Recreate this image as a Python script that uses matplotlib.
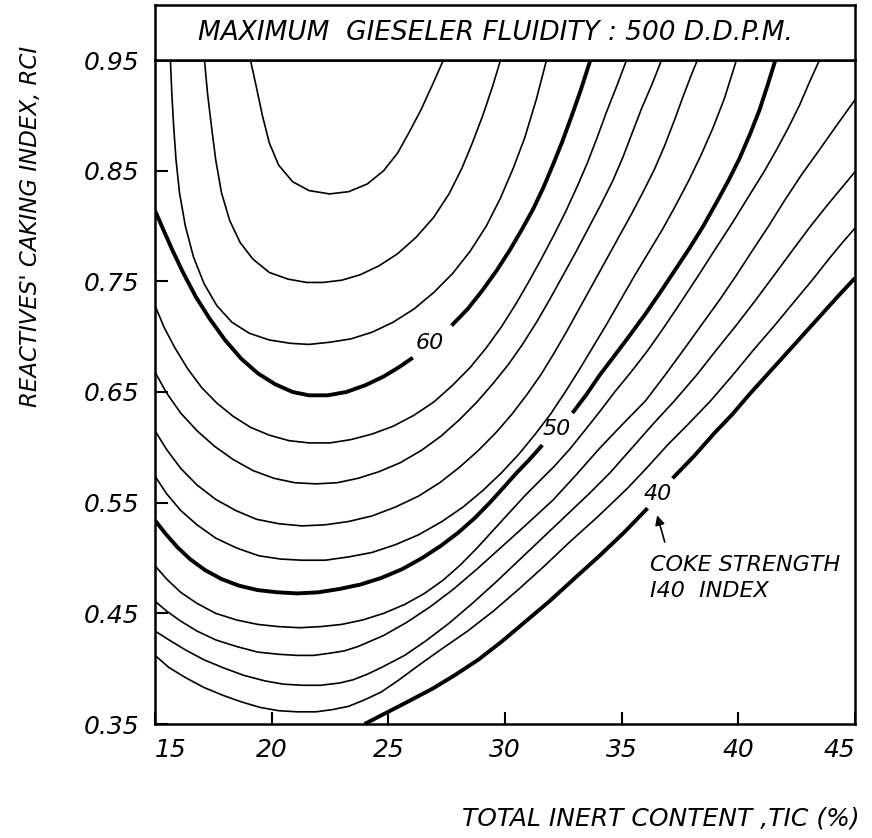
import matplotlib
matplotlib.use("Agg")
import matplotlib.pyplot as plt

# contour lines of coke strength (I40 index)
# points are (TIC %, RCI); bold levels are split in two where the number sits
lvl66 = [(19.09, 0.95), (19.35, 0.925), (19.6, 0.90), (19.9, 0.875), (20.3, 0.855),
         (20.9, 0.840), (21.6, 0.832), (22.48, 0.829), (23.3, 0.831), (24.1, 0.838),
         (24.8, 0.85), (25.4, 0.866), (25.9, 0.885), (26.4, 0.905), (26.9, 0.928),
         (27.36, 0.95)]
lvl64 = [(17.12, 0.95), (17.25, 0.92), (17.42, 0.89), (17.6, 0.86), (17.85, 0.83),
         (18.2, 0.805), (18.65, 0.785), (19.2, 0.77), (19.9, 0.758), (20.7, 0.752),
         (21.5, 0.749), (22.2, 0.749), (23.0, 0.751), (23.8, 0.756), (24.6, 0.764),
         (25.4, 0.775), (26.2, 0.79), (26.95, 0.808), (27.6, 0.829), (28.15, 0.852),
         (28.6, 0.875), (29.05, 0.90), (29.45, 0.925), (29.81, 0.95)]
lvl62 = [(15.66, 0.95), (15.72, 0.92), (15.8, 0.89), (15.9, 0.86), (16.05, 0.83),
         (16.3, 0.80), (16.65, 0.772), (17.1, 0.748), (17.65, 0.728), (18.3, 0.713),
         (19.05, 0.703), (19.9, 0.697), (20.8, 0.694), (21.6, 0.693), (22.5, 0.695),
         (23.4, 0.698), (24.3, 0.704), (25.2, 0.713), (26.1, 0.725), (26.95, 0.740),
         (27.75, 0.757), (28.5, 0.777), (29.2, 0.80), (29.8, 0.825), (30.35, 0.852),
         (30.85, 0.88), (31.35, 0.915), (31.78, 0.95)]
lvl60_a = [(15.0, 0.814), (15.35, 0.797), (15.75, 0.778), (16.2, 0.758), (16.75, 0.736),
           (17.35, 0.716), (18.0, 0.697), (18.7, 0.68), (19.4, 0.667), (20.15, 0.657),
           (20.9, 0.65), (21.6, 0.647), (22.4, 0.647), (23.2, 0.65), (24.0, 0.656),
           (24.8, 0.664), (25.5, 0.673), (26.05, 0.681)]
lvl60_b = [(27.71, 0.710), (28.4, 0.725), (29.04, 0.742), (29.65, 0.760), (30.2, 0.778),
           (30.7, 0.796), (31.2, 0.815), (31.65, 0.835), (32.05, 0.855), (32.45, 0.876),
           (32.85, 0.899), (33.25, 0.923), (33.66, 0.95)]
lvl58 = [(15.0, 0.728), (15.4, 0.708), (15.85, 0.69), (16.4, 0.671), (17.0, 0.654),
         (17.65, 0.64), (18.35, 0.628), (19.1, 0.618), (19.9, 0.611), (20.75, 0.606),
         (21.6, 0.604), (22.5, 0.604), (23.4, 0.607), (24.3, 0.612), (25.2, 0.619),
         (26.1, 0.629), (26.95, 0.641), (27.75, 0.656), (28.5, 0.672), (29.2, 0.69),
         (29.85, 0.709), (30.45, 0.729), (31.0, 0.749), (31.55, 0.77), (32.1, 0.792),
         (32.6, 0.813), (33.1, 0.836), (33.55, 0.858), (33.95, 0.88), (34.35, 0.903),
         (34.8, 0.927), (35.21, 0.95)]
lvl56 = [(15.0, 0.668), (15.5, 0.649), (16.1, 0.631), (16.8, 0.615), (17.55, 0.601),
         (18.35, 0.589), (19.2, 0.579), (20.1, 0.572), (21.0, 0.568), (21.9, 0.567),
         (22.8, 0.568), (23.7, 0.572), (24.6, 0.578), (25.5, 0.586), (26.4, 0.597),
         (27.25, 0.61), (28.05, 0.625), (28.8, 0.641), (29.5, 0.658), (30.15, 0.675),
         (30.75, 0.693), (31.35, 0.713), (31.9, 0.733), (32.45, 0.754), (33.0, 0.775),
         (33.55, 0.797), (34.1, 0.819), (34.6, 0.84), (35.05, 0.862), (35.45, 0.884),
         (35.85, 0.906), (36.3, 0.928), (36.71, 0.95)]
lvl54 = [(15.0, 0.615), (15.5, 0.598), (16.1, 0.581), (16.8, 0.566), (17.6, 0.553),
         (18.45, 0.543), (19.35, 0.535), (20.3, 0.531), (21.3, 0.529), (22.3, 0.530),
         (23.3, 0.533), (24.3, 0.538), (25.3, 0.546), (26.3, 0.556), (27.2, 0.568),
         (28.05, 0.582), (28.85, 0.597), (29.6, 0.613), (30.3, 0.63), (30.95, 0.648),
         (31.55, 0.666), (32.1, 0.685), (32.65, 0.705), (33.2, 0.726), (33.75, 0.747),
         (34.3, 0.768), (34.85, 0.789), (35.4, 0.81), (35.9, 0.83), (36.4, 0.851),
         (36.85, 0.873), (37.25, 0.895), (37.65, 0.918), (38.05, 0.94), (38.25, 0.95)]
lvl52 = [(15.0, 0.574), (15.5, 0.558), (16.1, 0.543), (16.8, 0.53), (17.6, 0.518),
         (18.5, 0.509), (19.45, 0.502), (20.4, 0.499), (21.3, 0.498), (22.3, 0.498),
         (23.3, 0.501), (24.3, 0.505), (25.3, 0.512), (26.3, 0.521), (27.3, 0.533),
         (28.2, 0.546), (29.05, 0.561), (29.85, 0.577), (30.6, 0.594), (31.3, 0.612),
         (31.95, 0.63), (32.55, 0.649), (33.15, 0.669), (33.75, 0.69), (34.35, 0.711),
         (34.95, 0.733), (35.55, 0.755), (36.15, 0.776), (36.75, 0.797), (37.3, 0.818),
         (37.85, 0.840), (38.4, 0.864), (38.9, 0.888), (39.4, 0.915), (39.92, 0.95)]
lvl50_a = [(15.0, 0.534), (15.45, 0.522), (15.95, 0.51), (16.5, 0.499), (17.15, 0.489),
           (17.85, 0.481), (18.6, 0.475), (19.4, 0.471), (20.25, 0.469), (21.1, 0.468),
           (22.0, 0.469), (22.9, 0.472), (23.8, 0.476), (24.7, 0.482), (25.6, 0.49),
           (26.45, 0.5), (27.25, 0.511), (28.0, 0.523), (28.7, 0.536), (29.35, 0.55),
           (29.95, 0.564), (30.5, 0.577), (31.05, 0.589), (31.6, 0.602)]
lvl50_b = [(32.89, 0.631), (33.5, 0.648), (34.05, 0.665), (34.7, 0.683), (35.34, 0.701),
           (36.0, 0.72), (36.62, 0.739), (37.25, 0.759), (37.91, 0.780), (38.5, 0.80),
           (39.11, 0.823), (39.6, 0.842), (40.05, 0.861), (40.5, 0.883), (40.91, 0.905),
           (41.25, 0.927), (41.59, 0.95)]
lvl48 = [(15.0, 0.493), (15.5, 0.481), (16.1, 0.469), (16.8, 0.459), (17.6, 0.45),
         (18.5, 0.444), (19.4, 0.44), (20.3, 0.438), (21.2, 0.437), (22.1, 0.438),
         (23.0, 0.44), (23.9, 0.444), (24.8, 0.45), (25.7, 0.458), (26.55, 0.468),
         (27.35, 0.48), (28.1, 0.494), (28.8, 0.509), (29.45, 0.524), (30.1, 0.539),
         (30.84, 0.556), (31.5, 0.57), (32.12, 0.583), (32.8, 0.599), (33.41, 0.615),
         (34.05, 0.632), (34.7, 0.65), (35.4, 0.668), (36.1, 0.687), (36.8, 0.708),
         (37.5, 0.73), (38.25, 0.754), (38.98, 0.778), (39.75, 0.803), (40.48, 0.828),
         (41.1, 0.849), (41.64, 0.869), (42.15, 0.889), (42.62, 0.909), (43.05, 0.93),
         (43.48, 0.95)]
lvl46 = [(15.0, 0.461), (15.5, 0.452), (16.1, 0.443), (16.8, 0.434), (17.6, 0.426),
         (18.5, 0.42), (19.4, 0.415), (20.3, 0.413), (21.1, 0.412), (21.8, 0.412),
         (22.5, 0.414), (23.1, 0.416), (23.7, 0.420), (24.8, 0.43), (25.8, 0.442),
         (26.8, 0.456), (27.8, 0.472), (28.8, 0.49), (29.8, 0.509), (30.8, 0.528),
         (32.04, 0.552), (33.0, 0.574), (34.05, 0.599), (35.0, 0.62), (36.02, 0.642),
         (36.85, 0.665), (37.65, 0.688), (38.4, 0.71), (39.19, 0.733), (39.9, 0.755),
         (40.61, 0.778), (41.3, 0.80), (41.98, 0.823), (42.7, 0.846), (43.48, 0.869),
         (44.25, 0.892), (45.0, 0.914)]
lvl44 = [(15.0, 0.434), (15.6, 0.426), (16.3, 0.417), (17.1, 0.408), (17.9, 0.401),
         (18.8, 0.394), (19.7, 0.389), (20.5, 0.386), (21.3, 0.385), (22.1, 0.385),
         (22.9, 0.387), (23.5, 0.390), (24.1, 0.395), (24.7, 0.401), (25.7, 0.412),
         (26.6, 0.425), (27.6, 0.441), (28.6, 0.459), (29.6, 0.478), (30.6, 0.498),
         (31.6, 0.518), (32.6, 0.538), (33.6, 0.558), (34.5, 0.577), (35.34, 0.597),
         (36.3, 0.62), (37.26, 0.642), (38.2, 0.665), (39.06, 0.688), (39.9, 0.71),
         (40.74, 0.733), (41.55, 0.756), (42.32, 0.778), (43.1, 0.80), (43.82, 0.819),
         (44.45, 0.835), (45.0, 0.849)]
lvl42 = [(15.0, 0.412), (15.6, 0.401), (16.3, 0.392), (17.1, 0.383), (17.9, 0.376),
         (18.7, 0.37), (19.5, 0.365), (20.3, 0.362), (21.1, 0.361), (21.9, 0.361),
         (22.6, 0.363), (23.3, 0.366), (24.0, 0.372), (24.7, 0.379), (25.4, 0.389),
         (26.3, 0.403), (27.3, 0.418), (28.4, 0.434), (29.5, 0.452), (30.6, 0.472),
         (31.7, 0.493), (32.8, 0.515), (33.96, 0.537), (35.25, 0.563), (36.1, 0.582),
         (36.96, 0.602), (37.9, 0.622), (38.81, 0.642), (39.75, 0.665), (40.65, 0.688),
         (41.55, 0.71), (42.45, 0.733), (43.2, 0.752), (43.91, 0.771), (44.5, 0.786),
         (45.0, 0.798)]
lvl40_a = [(23.98, 0.35), (24.9, 0.36), (25.91, 0.371), (26.9, 0.382), (27.84, 0.394),
           (28.85, 0.408), (29.89, 0.425), (30.9, 0.443), (31.91, 0.461), (33.0, 0.482),
           (34.05, 0.502), (35.1, 0.523), (36.11, 0.545)]
lvl40_b = [(37.18, 0.572), (38.1, 0.592), (38.98, 0.613), (39.75, 0.63), (40.48, 0.648),
           (41.25, 0.666), (41.98, 0.683), (42.75, 0.701), (43.48, 0.718), (44.25, 0.736),
           (45.0, 0.753)]

thin_lines = [lvl66, lvl64, lvl62, lvl58, lvl56, lvl54, lvl52, lvl48, lvl46, lvl44, lvl42]
bold_lines = [lvl60_a, lvl60_b, lvl50_a, lvl50_b, lvl40_a, lvl40_b]

# where the level numbers are written
level_labels = ["60", "50", "40"]
label_pos = [(26.77, 0.694), (32.2, 0.617), (36.55, 0.558)]

x_ticks = [15, 20, 25, 30, 35, 40, 45]
y_ticks = [0.35, 0.45, 0.55, 0.65, 0.75, 0.85, 0.95]
y_ticklabels = ["0.35", "0.45", "0.55", "0.65", "0.75", "0.85", "0.95"]

plt.rcParams['font.family'] = 'DejaVu Sans'
plt.rcParams['font.style'] = 'italic'

W, H = 872, 838
fig = plt.figure(figsize=(W / 100, H / 100), dpi=100)
ax = fig.add_axes([155 / W, (H - 724) / H, 700 / W, 664 / H])

for pts in thin_lines:
    xs, ys = zip(*pts)
    ax.plot(xs, ys, color='black', lw=1.2)
for pts in bold_lines:
    xs, ys = zip(*pts)
    ax.plot(xs, ys, color='black', lw=2.8, solid_capstyle='butt')

for lab, (x, y) in zip(level_labels, label_pos):
    ax.text(x, y, lab, ha='center', va='center', fontsize=16)

ax.annotate('', xy=(36.49, 0.541), xytext=(36.88, 0.512),
            arrowprops=dict(arrowstyle='-|>', color='black', lw=1.2, mutation_scale=14))
ax.text(36.2, 0.494, "COKE STRENGTH", ha='left', va='center', fontsize=16)
ax.text(36.2, 0.470, "I40  INDEX", ha='left', va='center', fontsize=16)

ax.set_xlim(15, 45)
ax.set_ylim(0.35, 0.95)
ax.set_xticks(x_ticks)
ax.set_yticks(y_ticks)
ax.set_yticklabels(y_ticklabels)
ax.tick_params(direction='in', length=9, width=1.5, labelsize=18)
ax.tick_params(axis='x', pad=10)
ax.tick_params(axis='y', pad=11)
xl = ax.get_xticklabels()
xl[0].set_ha('left')
xl[-1].set_ha('right')
for s in ax.spines.values():
    s.set_linewidth(1.8)

# title box above the plot
hax = fig.add_axes([155 / W, (H - 60) / H, 700 / W, 55 / H])
hax.set_xticks([])
hax.set_yticks([])
for s in hax.spines.values():
    s.set_linewidth(1.8)
hax.text(0.487, 0.5, "MAXIMUM  GIESELER FLUIDITY : 500 D.D.P.M.", ha='center', va='center',
         fontsize=19, transform=hax.transAxes)

fig.text(30 / W, 1 - 226 / H, "REACTIVES' CAKING INDEX, RCI", rotation=90,
         ha='center', va='center', fontsize=16.5)
fig.text(860 / W, 1 - 818 / H, "TOTAL INERT CONTENT ,TIC (%)", ha='right', va='center',
         fontsize=18)

fig.savefig("out.png", dpi=100)
